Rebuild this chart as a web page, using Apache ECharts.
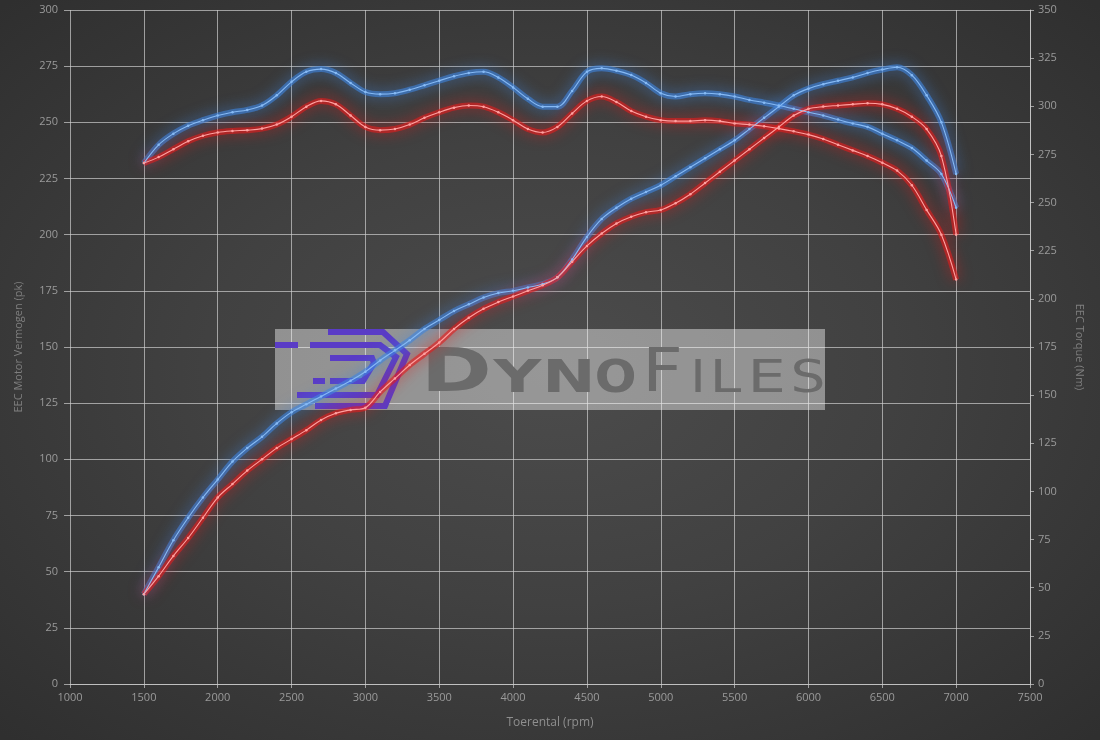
<!DOCTYPE html>
<html>
<head>
<meta charset="utf-8">
<script src="https://cdn.jsdelivr.net/npm/echarts@6/dist/echarts.min.js"></script>
<style>
html,body{margin:0;padding:0;width:1100px;height:740px;overflow:hidden;}
#c{width:1100px;height:740px;background:radial-gradient(ellipse 70% 70% at 50% 50%, #4c4c4c 0%, #414141 45%, #2f2f2f 100%);}
</style>
</head>
<body>
<div id="c"></div>
<script>
const rpm = [1500,1600,1700,1800,1900,2000,2100,2200,2300,2400,2500,2600,2700,2800,2900,3000,3100,3200,3300,3400,3500,3600,3700,3800,3900,4000,4100,4200,4300,4400,4500,4600,4700,4800,4900,5000,5100,5200,5300,5400,5500,5600,5700,5800,5900,6000,6100,6200,6300,6400,6500,6600,6700,6800,6900,7000];

// Power (pk) - left axis
const powerStock = [40,48,57,65,74,83,89,95,100,105,109,113,117.5,120.5,122,123,130,136,142,147,152,158,163,167,170,172.5,175,177.5,181,188,195,200.5,205,208,210,211,214,218,223,228,233,238,243,248,253,256,257,257.5,258,258.5,258,256,252.5,247,235,200];
const powerTuned = [40,52,64,74,83,91,99,105,110,116,121,124.5,128,131.5,135,139,144,148.5,153,158,162,166,169,172,174,175,176.5,178,181,189,199,207,212,216,219,222,226,230,234,238,242,247,252,257,262,265,267,268.5,270,272,273.5,274.5,271,262,250,227];

// Torque (Nm) - right axis
const torqueStock = [270.5,273.6,277.7,281.8,284.7,286.4,287.2,287.6,288.4,290.5,294.6,299.8,302.8,301,295.2,289.3,287.6,288.2,290.5,294,296.9,299.3,300.4,299.8,296.9,292.8,288.2,286.4,289.3,296.3,302.8,305.1,302.2,297.5,294.6,292.8,292.3,292.3,292.8,292.3,291.1,290.5,289.6,288.4,287,285.3,283,280,277.1,274.2,270.7,266.6,259,246.2,233.3,210];
const torqueTuned = [270.5,280,285.8,289.9,292.8,295.2,296.9,298.1,300.4,305.7,312.7,317.9,319.3,317.3,312.1,307.4,306.3,306.8,308.6,310.9,313.3,315.6,317.3,317.9,315,309.8,303.9,299.8,299.8,308,317.9,319.7,318.5,316.2,312.1,306.8,305.1,306.3,306.8,306.3,305.1,303.3,301.9,300.4,298.7,296.9,295.2,293.1,291.1,289.3,285.8,282.3,278.3,271.8,264.8,247.3];

const xName = 'Toerental (rpm)';
const leftName = 'EEC Motor Vermogen (pk)';
const rightName = 'EEC Torque (Nm)';

const pairs = (ys) => rpm.map((r,i)=>[r, ys[i]]);

const BLUE = '#3f86e0', BLUE_CORE = '#86baf5';
const RED = '#e41c1c', RED_CORE = '#ffa0a0';

function glow(data, yIdx, color){
  return {type:'line', data, yAxisIndex:yIdx, smooth:0.35, symbol:'none', silent:true, z:2,
    lineStyle:{color, width:6, opacity:0.6, shadowColor:color, shadowBlur:14}};
}
function core(data, yIdx, color){
  return {type:'line', data, yAxisIndex:yIdx, smooth:0.35, symbol:'circle', symbolSize:2.5, silent:true, z:3,
    itemStyle:{color}, lineStyle:{color, width:1.1}};
}

const chart = echarts.init(document.getElementById('c'), null, {renderer:'canvas'});
const axisLabel = {color:'#9a9a9a', fontSize:11, fontFamily:'Open Sans'};
const split = {show:true, lineStyle:{color:'rgba(205,205,205,0.7)', width:1}};

// watermark letters: [char, inkLeft, inkRight, fontSize, weight]
const letters = [
  ['D',428,488,60,'bold'],['Y',492,543,44,'bold'],['N',548,590,44,'bold'],['O',597,635,44,'bold'],
  ['F',648,680,60,'normal'],['I',695,701,44,'normal'],['L',715,742,44,'normal'],['E',753,782,44,'normal'],['S',793,823,44,'normal']
];
const mctx = document.createElement('canvas').getContext('2d');
const letterEls = letters.map(([t,l,r,fs,fw])=>{
  const font = fw+' '+fs+'px "DejaVu Sans"';
  mctx.font = font;
  const m = mctx.measureText(t);
  const inkL = -m.actualBoundingBoxLeft, inkW = m.actualBoundingBoxRight + m.actualBoundingBoxLeft;
  const sx = (r-l)/inkW;
  return {type:'text', z:1, silent:true, x:l - inkL*sx, y:392 - 0.77*fs, scaleX:sx,
    style:{text:t, fill:'#6b6b6b', font, textAlign:'left', textVerticalAlign:'top'}};
});

const logoStroke = '#5a3cc6';
const pl = (pts)=>({type:'polyline', z:1, silent:true, shape:{points:pts}, style:{stroke:logoStroke, lineWidth:6, fill:null, lineJoin:'miter'}});

chart.setOption({
  backgroundColor:'transparent',
  animation:false,
  grid:{left:70, right:70, top:10, bottom:56},
  xAxis:{type:'value', min:1000, max:7500, interval:500,
    name:xName, nameLocation:'middle', nameGap:33, nameTextStyle:{color:'#8f8f8f', fontSize:12, fontFamily:'Open Sans'},
    axisLine:{show:true, lineStyle:{color:'rgba(205,205,205,0.7)'}},
    axisTick:{show:true, length:4, lineStyle:{color:'rgba(205,205,205,0.7)'}},
    axisLabel:{...axisLabel, formatter:(v)=>String(v)}, splitLine:split},
  yAxis:[
    {type:'value', min:0, max:300, interval:25, position:'left',
     name:leftName, nameLocation:'middle', nameGap:46, nameTextStyle:{color:'#7f7f7f', fontSize:11, fontFamily:'Open Sans'},
     axisLine:{show:false}, axisTick:{show:true, length:6, lineStyle:{color:'rgba(205,205,205,0.7)'}},
     axisLabel:{...axisLabel, margin:12}, splitLine:split},
    {type:'value', min:0, max:350, interval:25, position:'right',
     name:rightName, nameLocation:'middle', nameGap:44, nameRotate:-90, nameTextStyle:{color:'#7f7f7f', fontSize:11, fontFamily:'Open Sans'},
     axisLine:{show:true, lineStyle:{color:'rgba(205,205,205,0.75)'}}, axisTick:{show:true, length:4, lineStyle:{color:'rgba(205,205,205,0.7)'}},
     axisLabel:{...axisLabel, margin:8}, splitLine:{show:false}}
  ],
  graphic:[
    {type:'rect', z:1, silent:true, shape:{x:275,y:329,width:550,height:81}, style:{fill:'rgba(255,255,255,0.42)'}},
    pl([[328,332],[383,332],[407,354],[385,406],[315,406]]),
    pl([[310,345],[380,345],[396,357],[377,395],[297,395]]),
    pl([[330,358],[372,358],[374,363],[363,381],[330,381]]),
    {type:'line', z:1, silent:true, shape:{x1:275,y1:345,x2:298,y2:345}, style:{stroke:logoStroke, lineWidth:6}},
    {type:'line', z:1, silent:true, shape:{x1:313,y1:381,x2:325,y2:381}, style:{stroke:logoStroke, lineWidth:6}},
    ...letterEls
  ],
  series:[
    glow(pairs(torqueTuned),1,BLUE), core(pairs(torqueTuned),1,BLUE_CORE),
    glow(pairs(powerTuned),0,BLUE), core(pairs(powerTuned),0,BLUE_CORE),
    glow(pairs(torqueStock),1,RED), core(pairs(torqueStock),1,RED_CORE),
    glow(pairs(powerStock),0,RED), core(pairs(powerStock),0,RED_CORE)
  ]
});
</script>
</body>
</html>
